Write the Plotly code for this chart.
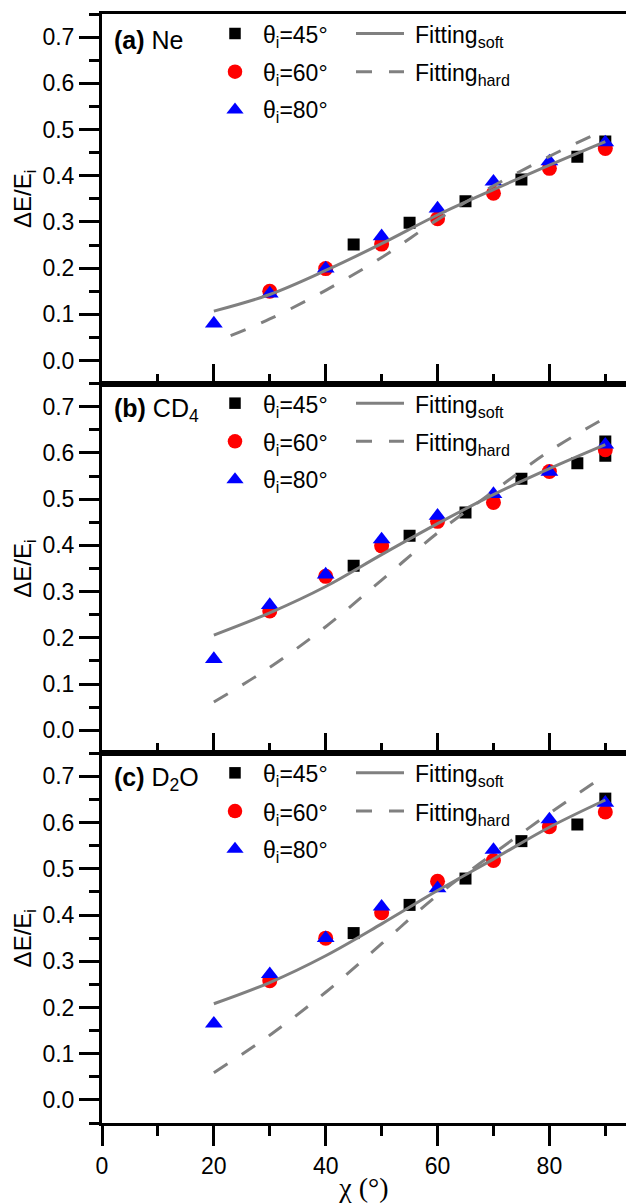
import plotly.graph_objects as go
from plotly.subplots import make_subplots

# ---------------- data ----------------
chi_fit = [20, 30, 40, 50, 60, 70, 80, 90]
chi_60 = [30, 40, 50, 60, 70, 80, 90]
chi_80 = [20, 30, 40, 50, 60, 70, 80, 90]

# (a) Ne
ne_chi_45 = [45, 55, 65, 75, 85, 90]
ne_45 = [0.251, 0.298, 0.345, 0.392, 0.441, 0.474]
ne_60 = [0.150, 0.199, 0.252, 0.307, 0.362, 0.416, 0.459]
ne_80 = [0.080, 0.145, 0.199, 0.269, 0.329, 0.387, 0.431, 0.472]
ne_soft = [0.107, 0.143, 0.195, 0.253, 0.315, 0.370, 0.423, 0.474]
ne_chi_hard = [23, 30, 40, 50, 60, 70, 80, 90]
ne_hard = [0.054, 0.090, 0.152, 0.223, 0.305, 0.378, 0.442, 0.500]

# (b) CD4
cd4_chi_45 = [45, 55, 65, 75, 85, 90, 90]
cd4_45 = [0.356, 0.421, 0.471, 0.544, 0.578, 0.625, 0.594]
cd4_60 = [0.258, 0.333, 0.399, 0.452, 0.493, 0.560, 0.607]
cd4_80 = [0.154, 0.271, 0.337, 0.413, 0.464, 0.511, 0.559, 0.618]
cd4_soft = [0.206, 0.254, 0.311, 0.380, 0.447, 0.510, 0.566, 0.618]
cd4_chi_hard = [20, 30, 40, 50, 60, 70, 80, 90]
cd4_hard = [0.061, 0.136, 0.224, 0.325, 0.427, 0.517, 0.604, 0.676]

# (c) D2O
d2o_chi_45 = [45, 55, 65, 75, 85, 90]
d2o_45 = [0.361, 0.422, 0.479, 0.560, 0.596, 0.652]
d2o_60 = [0.258, 0.350, 0.405, 0.473, 0.518, 0.591, 0.623]
d2o_80 = [0.165, 0.272, 0.350, 0.418, 0.458, 0.541, 0.607, 0.643]
d2o_soft = [0.208, 0.254, 0.312, 0.381, 0.453, 0.521, 0.590, 0.649]
d2o_chi_hard = [20, 30, 40, 50, 60, 70, 80, 90]
d2o_hard = [0.059, 0.140, 0.233, 0.338, 0.443, 0.533, 0.620, 0.703]

panel_labels = ["<b>(a)</b> Ne", "<b>(b)</b> CD<sub>4</sub>", "<b>(c)</b> D<sub>2</sub>O"]
legend_texts = ["θ<sub>i</sub>=45°", "θ<sub>i</sub>=60°", "θ<sub>i</sub>=80°"]
fit_texts = ["Fitting<sub>soft</sub>", "Fitting<sub>hard</sub>"]

panels = [
    (ne_chi_45, ne_45, ne_60, ne_80, ne_soft, ne_chi_hard, ne_hard),
    (cd4_chi_45, cd4_45, cd4_60, cd4_80, cd4_soft, cd4_chi_hard, cd4_hard),
    (d2o_chi_45, d2o_45, d2o_60, d2o_80, d2o_soft, d2o_chi_hard, d2o_hard),
]

# ---------------- layout geometry ----------------
W, H = 626, 1203
ML, MR, MT, MB = 102, 0, 14, 80
PW = W - ML - MR
PH = H - MT - MB
PANEL_H = PH / 3
FONT = "Liberation Sans, Arial, sans-serif"
SERIF = "Liberation Serif, Times New Roman, serif"
GREY = "#808080"
DASH = "16px,17px"


def fx(px):
    return (px - ML) / PW


def fy(py):
    return 1 - (py - MT) / PH


fig = make_subplots(rows=3, cols=1, vertical_spacing=0)

for r, (c45, v45, v60, v80, vsoft, chard, vhard) in enumerate(panels, start=1):
    fig.add_trace(go.Scatter(x=c45, y=v45, mode="markers",
                             marker=dict(symbol="square", size=12, color="black", line=dict(width=0))),
                  row=r, col=1)
    fig.add_trace(go.Scatter(x=chi_60, y=v60, mode="markers",
                             marker=dict(symbol="circle", size=15, color="#ff0000", line=dict(width=0))),
                  row=r, col=1)
    fig.add_trace(go.Scatter(x=chi_80, y=v80, mode="markers",
                             marker=dict(symbol="triangle-up", size=15.5, color="#0000ff", line=dict(width=0))),
                  row=r, col=1)
    fig.add_trace(go.Scatter(x=chi_fit, y=vsoft, mode="lines", line_shape="spline",
                             line=dict(color=GREY, width=3)),
                  row=r, col=1)
    fig.add_trace(go.Scatter(x=chard, y=vhard, mode="lines", line_shape="spline",
                             line=dict(color=GREY, width=3, dash=DASH)),
                  row=r, col=1)

    last = (r == 3)
    tdir = "outside" if last else "inside"
    fig.update_xaxes(row=r, col=1, range=[0, 93.7], showline=True, linewidth=3, linecolor="black",
                     mirror=True, showgrid=False, zeroline=False, tickmode="linear", tick0=0, dtick=20,
                     ticks=tdir, ticklen=20, tickwidth=3, tickcolor="black",
                     minor=dict(tick0=0, dtick=10, ticks=tdir, ticklen=10, tickwidth=3,
                                tickcolor="black", showgrid=False),
                     showticklabels=last, tickfont=dict(size=23, family=FONT, color="black"))
    fig.update_yaxes(row=r, col=1, range=[-0.05, 0.75], showline=True, linewidth=3, linecolor="black",
                     showgrid=False, zeroline=False, tickmode="linear", tick0=0, dtick=0.1,
                     tickformat=".1f", ticks="outside", ticklen=20, tickwidth=3, tickcolor="black",
                     minor=dict(tick0=0, dtick=0.05, ticks="outside", ticklen=10, tickwidth=3,
                                tickcolor="black", showgrid=False),
                     tickfont=dict(size=23, family=FONT, color="black"),
                     title=dict(text="ΔE/E<sub>i</sub>", font=dict(size=24, family=FONT, color="black"),
                                standoff=5))

fig.update_xaxes(row=3, col=1, title=dict(text="χ (°)", font=dict(size=28, family=SERIF, color="black"),
                                          standoff=2))

shapes = []
annotations = []
for r in range(3):
    T = MT + r * PANEL_H
    # panel label
    annotations.append(dict(xref="paper", yref="paper", x=fx(112), y=fy(T + 26), xanchor="left",
                            yanchor="middle", text=panel_labels[r], showarrow=False,
                            font=dict(size=25, family=FONT, color="black")))
    rows_y = [T + 19.5, T + 57.7, T + 95.0]
    mx = 235
    # square
    s = 11.5 / 2
    shapes.append(dict(type="rect", xref="paper", yref="paper", x0=fx(mx - s), x1=fx(mx + s),
                       y0=fy(rows_y[0] + s), y1=fy(rows_y[0] - s), fillcolor="black", line=dict(width=0)))
    # circle
    c = 14.5 / 2
    shapes.append(dict(type="circle", xref="paper", yref="paper", x0=fx(mx - c), x1=fx(mx + c),
                       y0=fy(rows_y[1] + c), y1=fy(rows_y[1] - c), fillcolor="#ff0000", line=dict(width=0)))
    # triangle
    tw, th = 17.3 / 2, 11.0 / 2
    yt = rows_y[2] - 1
    path = "M {:.5f},{:.5f} L {:.5f},{:.5f} L {:.5f},{:.5f} Z".format(
        fx(mx - tw), fy(yt + th), fx(mx + tw), fy(yt + th), fx(mx), fy(yt - th))
    shapes.append(dict(type="path", xref="paper", yref="paper", path=path, fillcolor="#0000ff",
                       line=dict(width=0)))
    for k in range(3):
        annotations.append(dict(xref="paper", yref="paper", x=fx(261), y=fy(rows_y[k] + 3),
                                xanchor="left", yanchor="middle", text=legend_texts[k], showarrow=False,
                                font=dict(size=23, family=FONT, color="black")))
    # fit lines
    shapes.append(dict(type="line", xref="paper", yref="paper", x0=fx(356), x1=fx(404),
                       y0=fy(rows_y[0]), y1=fy(rows_y[0]), line=dict(color=GREY, width=3)))
    shapes.append(dict(type="line", xref="paper", yref="paper", x0=fx(356), x1=fx(404),
                       y0=fy(rows_y[1]), y1=fy(rows_y[1]), line=dict(color=GREY, width=3, dash=DASH)))
    for k in range(2):
        annotations.append(dict(xref="paper", yref="paper", x=fx(413), y=fy(rows_y[k] + 3),
                                xanchor="left", yanchor="middle", text=fit_texts[k], showarrow=False,
                                font=dict(size=23, family=FONT, color="black")))

fig.update_layout(width=W, height=H, margin=dict(l=ML, r=MR, t=MT, b=MB),
                  plot_bgcolor="white", paper_bgcolor="white", showlegend=False,
                  font=dict(family=FONT, color="black"), shapes=shapes, annotations=annotations)

fig.write_html("out.html", config={"displayModeBar": False},
               post_script="document.body.style.margin='0';document.body.style.overflow='hidden';")
